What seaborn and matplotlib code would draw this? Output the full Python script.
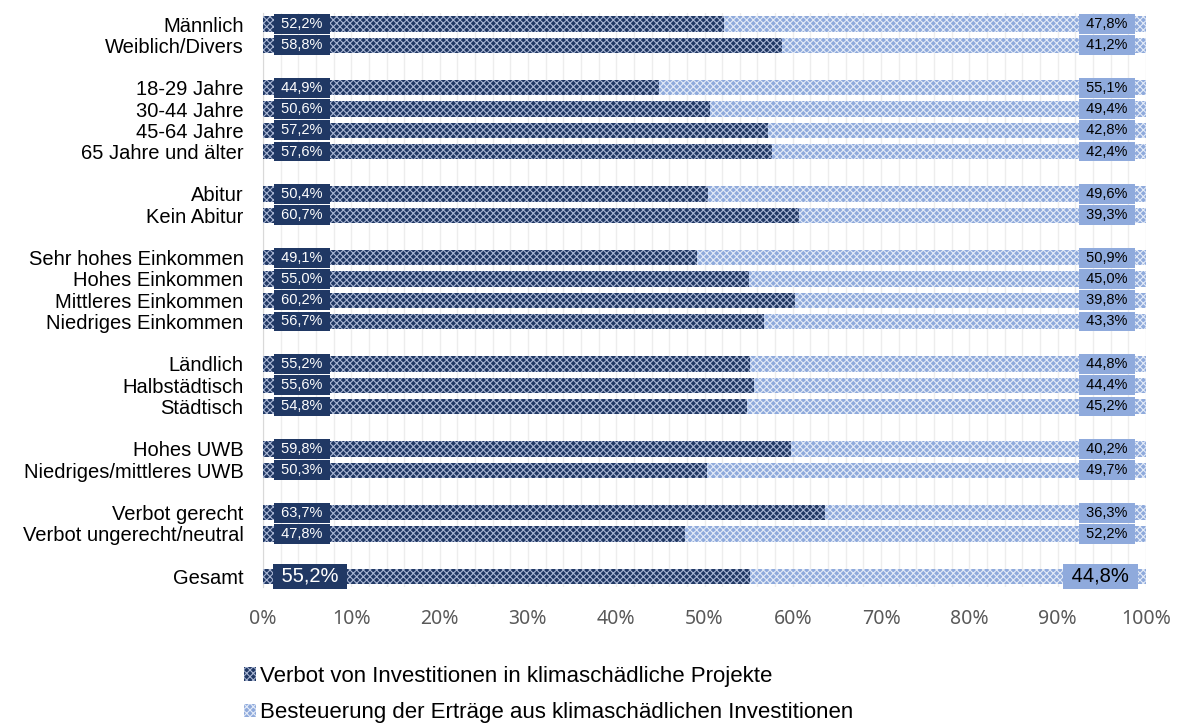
import matplotlib
matplotlib.use("Agg")
import matplotlib.pyplot as plt
import seaborn as sns
import pandas as pd
from matplotlib.patches import Patch

# data
groups = [
    ["Männlich", "Weiblich/Divers"],
    ["18-29 Jahre", "30-44 Jahre", "45-64 Jahre", "65 Jahre und älter"],
    ["Abitur", "Kein Abitur"],
    ["Sehr hohes Einkommen", "Hohes Einkommen", "Mittleres Einkommen", "Niedriges Einkommen"],
    ["Ländlich", "Halbstädtisch", "Städtisch"],
    ["Hohes UWB", "Niedriges/mittleres UWB"],
    ["Verbot gerecht", "Verbot ungerecht/neutral"],
    ["Gesamt"],
]
verbot = [52.2, 58.8, 44.9, 50.6, 57.2, 57.6, 50.4, 60.7, 49.1, 55.0, 60.2, 56.7,
          55.2, 55.6, 54.8, 59.8, 50.3, 63.7, 47.8, 55.2]
besteuerung = [47.8, 41.2, 55.1, 49.4, 42.8, 42.4, 49.6, 39.3, 50.9, 45.0, 39.8, 43.3,
               44.8, 44.4, 45.2, 40.2, 49.7, 36.3, 52.2, 44.8]
series_names = ["Verbot von Investitionen in klimaschädliche Projekte",
                "Besteuerung der Erträge aus klimaschädlichen Investitionen"]

dark = "#203864"
light = "#8FAADC"
dark_hatch = "#A9B6D3"
light_hatch = "#E4EBF7"

# category order with blank spacer rows between groups
order = []
for i, g in enumerate(groups):
    order += g
    if i < len(groups) - 1:
        order.append(" " * (i + 1))
cats = [c for g in groups for c in g]

df = pd.DataFrame({"cat": cats, "verbot": verbot, "besteuerung": besteuerung})
df["total"] = df["verbot"] + df["besteuerung"]

sns.set_style("white")
plt.rcParams["font.family"] = ["Liberation Sans", "DejaVu Sans"]
plt.rcParams["hatch.linewidth"] = 0.8

fig = plt.figure(figsize=(11.8, 7.25), dpi=100)
ax = fig.add_axes([0.2229, 0.1903, 0.7483, 0.7912])

sns.barplot(data=df, x="total", y="cat", order=order, color=light,
            width=0.72, saturation=1, ax=ax, zorder=2)
n_light = len(ax.patches)
sns.barplot(data=df, x="verbot", y="cat", order=order, color=dark,
            width=0.72, saturation=1, ax=ax, zorder=3)

for i, p in enumerate(ax.patches):
    p.set_linewidth(0)
    p.set_hatch("xxxxx")
    p.set_edgecolor(light_hatch if i < n_light else dark_hatch)


def pct(v):
    return f"{v:.1f}%".replace(".", ",")


# value labels in boxes
pos = {c: order.index(c) for c in cats}
for c, v, b in zip(cats, verbot, besteuerung):
    y = pos[c]
    big = c == "Gesamt"
    fs = 14.5 if big else 10.5
    pad = "square,pad=0.16" if big else "square,pad=0.2"
    ax.text(5.3 if big else 4.4, y, f" {pct(v)} ", ha="center", va="center",
            color="white", fontsize=fs, zorder=5,
            bbox=dict(boxstyle=pad, fc=dark, ec="none"))
    ax.text(94.8 if big else 95.6, y, f" {pct(b)} ", ha="center", va="center",
            color="black", fontsize=fs, zorder=5,
            bbox=dict(boxstyle=pad, fc=light, ec="none"))

ax.set_xlim(0, 100)
ax.set_ylim(len(order) - 0.5, -0.5)
ax.set_xticks(range(0, 101, 10))
ax.set_xticklabels([f"{t}%" for t in range(0, 101, 10)], fontsize=14, color="#595959",
                   family=["Noto Sans", "DejaVu Sans"])
ax.set_xticks(range(0, 101, 2), minor=True)
ax.grid(axis="x", which="both", color="#EDEDED", linewidth=1, zorder=0)
ax.set_axisbelow(True)
ax.tick_params(axis="x", which="both", length=0, pad=16)
ax.tick_params(axis="y", length=0, pad=14, labelsize=14.5, labelcolor="black")
ax.set_xlabel("")
ax.set_ylabel("")
for s in ["top", "right", "bottom"]:
    ax.spines[s].set_visible(False)
ax.spines["left"].set_color("#D9D9D9")

handles = [Patch(facecolor=dark, edgecolor=dark_hatch, hatch="xxxxx", linewidth=0),
           Patch(facecolor=light, edgecolor=light_hatch, hatch="xxxxx", linewidth=0)]
fig.legend(handles, series_names, loc="upper left", bbox_to_anchor=(0.199, 0.094),
           frameon=False, fontsize=16, handlelength=0.55, handleheight=0.55,
           handletextpad=0.2, labelspacing=0.7, borderaxespad=0, labelcolor="black")

fig.savefig("out.png", dpi=100)
